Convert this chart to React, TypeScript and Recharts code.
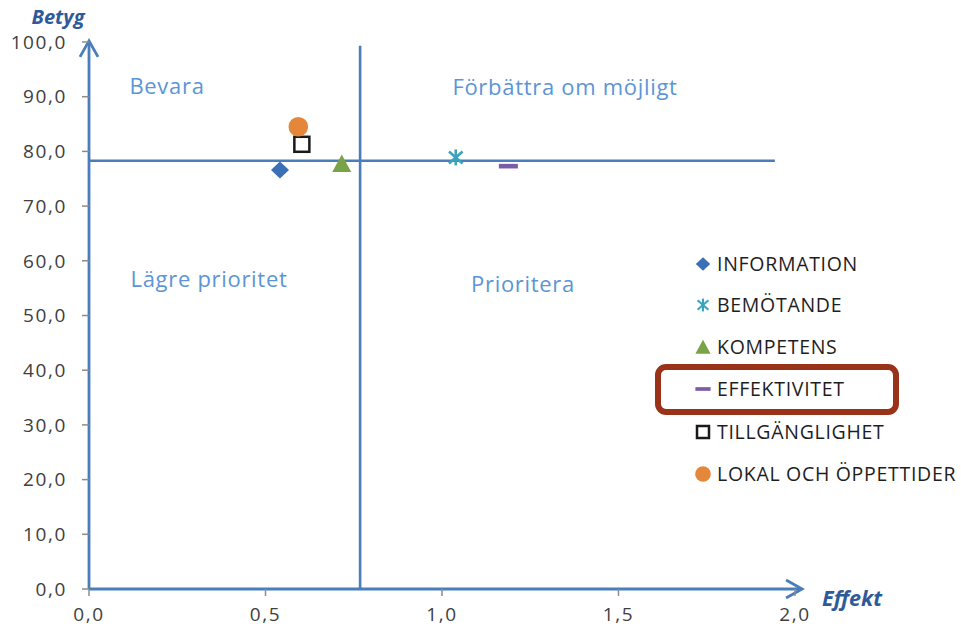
import React from 'react';
import { ScatterChart, Scatter, XAxis, YAxis, ReferenceLine } from 'recharts';

// ---- data ----
const seriesNames = ['INFORMATION', 'BEMÖTANDE', 'KOMPETENS', 'EFFEKTIVITET', 'TILLGÄNGLIGHET', 'LOKAL OCH ÖPPETTIDER'];
const effektValues = [0.541, 1.039, 0.716, 1.188, 0.603, 0.593];
const betygValues = [76.6, 78.9, 77.8, 77.3, 81.3, 84.5];
const seriesKinds = ['diamond', 'asterisk', 'triangle', 'dash', 'square', 'circle'];
const seriesColors = ['#3b6fb6', '#3aa3bd', '#7aa347', '#7b5ca8', '#1a1a1a', '#e4873b'];

const xTicks = [0, 0.5, 1, 1.5, 2];
const yTicks = [0, 10, 20, 30, 40, 50, 60, 70, 80, 90, 100];

const medelEffekt = 0.768;
const medelBetyg = 78.3;
const hLineEnd = 1.943;
const vLineTop = 99.3;

const quadrantLabels = ['Bevara', 'Förbättra om möjligt', 'Lägre prioritet', 'Prioritera'];
const yTitle = 'Betyg';
const xTitle = 'Effekt';

// ---- styles ----
const FONT = '"Open Sans", sans-serif';
const AXIS = '#4a7ebb';
const LABEL_BLUE = '#5b95d6';
const TITLE_BLUE = '#2f5a9a';

const fmt = (v: number) => v.toFixed(1).replace('.', ',');

function Marker({ kind, color, cx, cy, s = 1 }: any) {
  switch (kind) {
    case 'diamond':
      return <polygon points={`${cx},${cy - 8.5 * s} ${cx + 9 * s},${cy} ${cx},${cy + 8.5 * s} ${cx - 9 * s},${cy}`} fill={color} />;
    case 'asterisk': {
      const r = 8 * s;
      return (
        <g stroke={color} strokeWidth={2.6 * s} strokeLinecap="butt">
          <line x1={cx} y1={cy - r} x2={cx} y2={cy + r} />
          <line x1={cx - r * 0.85} y1={cy - r * 0.75} x2={cx + r * 0.85} y2={cy + r * 0.75} />
          <line x1={cx - r * 0.85} y1={cy + r * 0.75} x2={cx + r * 0.85} y2={cy - r * 0.75} />
        </g>
      );
    }
    case 'triangle':
      return <polygon points={`${cx},${cy - 9 * s} ${cx + 9.5 * s},${cy + 8.5 * s} ${cx - 9.5 * s},${cy + 8.5 * s}`} fill={color} />;
    case 'dash':
      return <rect x={cx - 9.5 * s} y={cy - 2.3 * s} width={19 * s} height={4.6 * s} fill={color} />;
    case 'square':
      return <rect x={cx - 7.5 * s} y={cy - 7.5 * s} width={15 * s} height={15 * s} fill="#fff" stroke={color} strokeWidth={2.5} />;
    case 'circle':
      return <circle cx={cx} cy={cy} r={9.8 * s} fill={color} />;
    default:
      return null;
  }
}

function ArrowLine(props: any) {
  const { x1, y1, x2, y2 } = props;
  const dx = x2 - x1;
  const dy = y2 - y1;
  const len = Math.sqrt(dx * dx + dy * dy) || 1;
  const ux = dx / len;
  const uy = dy / len;
  const nx = -uy;
  const ny = ux;
  const L = 16;
  const w = 9;
  const bx = x2 - ux * L;
  const by = y2 - uy * L;
  return (
    <g>
      <line x1={x1} y1={y1} x2={x2 - ux * 1.5} y2={y2 - uy * 1.5} stroke={AXIS} strokeWidth={2.8} />
      <polyline
        points={`${bx + nx * w},${by + ny * w} ${x2},${y2} ${bx - nx * w},${by - ny * w}`}
        fill="none"
        stroke={AXIS}
        strokeWidth={2.8}
        strokeLinejoin="miter"
      />
    </g>
  );
}

function PlainLine(props: any) {
  const { x1, y1, x2, y2 } = props;
  return <line x1={x1} y1={y1} x2={x2} y2={y2} stroke={AXIS} strokeWidth={2.6} />;
}

const tickStyle = { fill: '#404040', fontSize: 19, fontFamily: FONT, letterSpacing: 1.6 } as any;

export default function App() {
  const series = seriesNames.map((name, i) => ({
    name,
    kind: seriesKinds[i],
    color: seriesColors[i],
    data: [{ x: effektValues[i], y: betygValues[i] }],
  }));

  const quadPos = [
    { left: 167, top: 85 },
    { left: 565, top: 86 },
    { left: 209, top: 278 },
    { left: 523, top: 283 },
  ];
  const legendRows = [264, 305, 347, 389, 432, 474];

  return (
    <div style={{ position: 'absolute', left: 0, top: 0, width: 961, height: 635, background: '#fff', fontFamily: FONT }}>
      <ScatterChart width={961} height={635} margin={{ top: 42, right: 166, bottom: 0, left: 0 }}>
        <XAxis
          type="number"
          dataKey="x"
          domain={[0, 2]}
          ticks={xTicks}
          tickFormatter={fmt}
          axisLine={false}
          tickLine={{ stroke: '#8c8c8c', strokeWidth: 1.5 }}
          tickSize={7}
          tickMargin={12}
          height={46}
          tick={tickStyle}
          allowDataOverflow
        />
        <YAxis
          type="number"
          dataKey="y"
          domain={[0, 100]}
          ticks={yTicks}
          tickFormatter={fmt}
          axisLine={false}
          tickLine={{ stroke: '#8c8c8c', strokeWidth: 1.5 }}
          tickSize={7}
          tickMargin={15}
          width={89}
          tick={tickStyle}
          allowDataOverflow
        />
        <ReferenceLine
          segment={[{ x: medelEffekt, y: 0 }, { x: medelEffekt, y: vLineTop }]}
          ifOverflow="visible"
          shape={PlainLine}
        />
        <ReferenceLine
          segment={[{ x: 0, y: medelBetyg }, { x: hLineEnd, y: medelBetyg }]}
          ifOverflow="visible"
          shape={PlainLine}
        />
        <ReferenceLine
          segment={[{ x: 0, y: 0 }, { x: 2.02, y: 0 }]}
          ifOverflow="visible"
          shape={ArrowLine}
        />
        <ReferenceLine
          segment={[{ x: 0, y: 0 }, { x: 0, y: 100.2 }]}
          ifOverflow="visible"
          shape={ArrowLine}
        />
        {series.map((s) => (
          <Scatter
            key={s.name}
            name={s.name}
            data={s.data}
            isAnimationActive={false}
            shape={(p: any) => <Marker kind={s.kind} color={s.color} cx={p.cx} cy={p.cy} />}
          />
        ))}
      </ScatterChart>

      {quadrantLabels.map((t, i) => (
        <div
          key={t}
          style={{
            position: 'absolute',
            left: quadPos[i].left,
            top: quadPos[i].top,
            transform: 'translate(-50%, -50%)',
            color: LABEL_BLUE,
            fontSize: 22,
            letterSpacing: 0.7,
            whiteSpace: 'nowrap',
            lineHeight: 1,
          }}
        >
          {t}
        </div>
      ))}

      <div style={{ position: 'absolute', left: 58, top: 17, transform: 'translate(-50%, -50%)', color: TITLE_BLUE, fontSize: 20, fontWeight: 700, fontStyle: 'italic', lineHeight: 1 }}>
        {yTitle}
      </div>
      <div style={{ position: 'absolute', left: 852, top: 598, transform: 'translate(-50%, -50%)', color: TITLE_BLUE, fontSize: 21.5, fontWeight: 700, fontStyle: 'italic', lineHeight: 1 }}>
        {xTitle}
      </div>

      {series.map((s, i) => (
        <div key={s.name} style={{ position: 'absolute', left: 692, top: legendRows[i] - 12, height: 24, display: 'flex', alignItems: 'center', whiteSpace: 'nowrap' }}>
          <svg width={22} height={24} style={{ display: 'block' }}>
            <Marker kind={s.kind} color={s.color} cx={11} cy={12} s={0.8} />
          </svg>
          <span style={{ fontSize: 19.5, letterSpacing: 0.7, color: '#1e1e1e', marginLeft: 3, lineHeight: 1 }}>{s.name}</span>
        </div>
      ))}

      <div
        style={{
          position: 'absolute',
          left: 655,
          top: 364,
          width: 244,
          height: 51,
          boxSizing: 'border-box',
          border: '6px solid #983218',
          borderRadius: 11,
        }}
      />
    </div>
  );
}
